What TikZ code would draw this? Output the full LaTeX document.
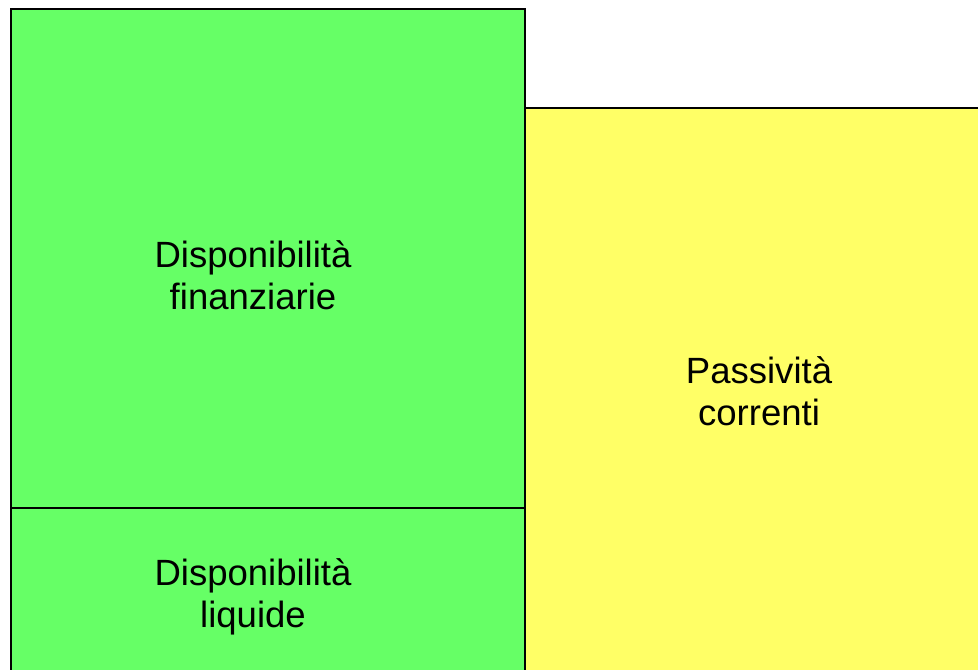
\documentclass[tikz,border=0pt]{standalone}
\usepackage{fontspec}
\setmainfont{Liberation Sans}
\definecolor{boxgreen}{HTML}{66FF66}
\definecolor{boxyellow}{HTML}{FFFF66}
\begin{document}
\begin{tikzpicture}[x=0.75pt,y=-0.75pt,
  lbl/.style={align=center,anchor=base,font=\fontsize{27.4}{31.5}\selectfont,inner sep=0pt},
  edge/.style={draw=black,line width=1.9pt}]
\useasboundingbox (0,0) rectangle (978,669);
\clip (0,0) rectangle (978,669);
\fill[white] (0,0) rectangle (978,669);
\fill[boxgreen] (11,9) rectangle (525,690);
\fill[boxyellow] (525,108) rectangle (1000,690);
\draw[edge] (11,690) -- (11,9) -- (525,9) -- (525,690);
\draw[edge] (11,508) -- (525,508);
\draw[edge] (525,108) -- (1000,108);
\node[lbl] (fin) at (253,309) {Disponibilità\\finanziarie};
\node[lbl] (liq) at (253,627) {Disponibilità\\liquide};
\node[lbl] (pas) at (759,425) {Passività\\correnti};
\end{tikzpicture}
\end{document}
